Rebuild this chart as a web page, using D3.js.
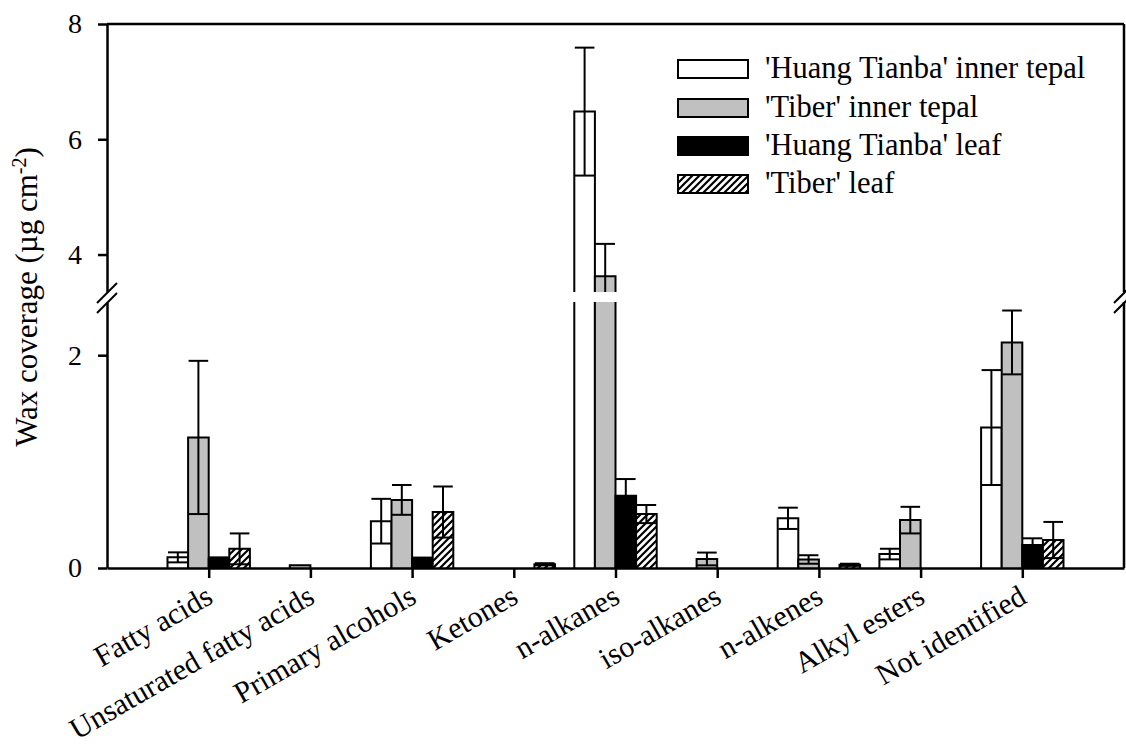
<!DOCTYPE html>
<html>
<head>
<meta charset="utf-8">
<script src="https://cdn.jsdelivr.net/npm/d3@7"></script>
<style>
  html, body { margin: 0; padding: 0; background: #fff; }
  svg { display: block; }
</style>
</head>
<body>
<svg id="chart" width="1126" height="745"></svg>
<script>
// Wax classes on the x axis
const categories = ["Fatty acids", "Unsaturated fatty acids", "Primary alcohols", "Ketones",
  "n-alkanes", "iso-alkanes", "n-alkenes", "Alkyl esters", "Not identified"];

// Series names (legend order)
const seriesNames = ["'Huang Tianba' inner tepal", "'Tiber' inner tepal", "'Huang Tianba' leaf", "'Tiber' leaf"];

// Mean wax coverage (µg cm-2) and standard deviations per series
const htTepal       = [0.10, 0,     0.44,  0,     6.48,  0,     0.467, 0.131, 1.32];
const htTepalErr    = [0.047, 0,    0.21,  0,     1.11,  0,     0.10,  0.05,  0.54];
const tiberTepal    = [1.227, 0.025, 0.64, 0,     3.625, 0.085, 0.08,  0.45,  2.12];
const tiberTepalErr = [0.72, 0,     0.14,  0,     0.56,  0.06,  0.04,  0.125, 0.30];
const htLeaf        = [0.09, 0,     0.088, 0,     0.679, 0,     0,     0,     0.216];
const htLeafErr     = [0.01, 0,     0.01,  0,     0.157, 0,     0,     0,     0.063];
const tiberLeaf     = [0.18, 0,     0.526, 0.035, 0.507, 0,     0.03,  0,     0.263];
const tiberLeafErr  = [0.145, 0,    0.24,  0.01,  0.085, 0,     0.01,  0,     0.17];

// Y tick labels for the two axis segments
const lowTicks = [0, 2];
const highTicks = [4, 6, 8];

const seriesValues = [htTepal, tiberTepal, htLeaf, tiberLeaf];
const seriesErrors = [htTepalErr, tiberTepalErr, htLeafErr, tiberLeafErr];
const fills = ["#ffffff", "#c0c0c0", "#000000", "url(#hatch)"];

const FONT = "'Times New Roman', 'Liberation Serif', Times, 'DejaVu Serif', serif";
const TEXT_SIZE = 31;

const svg = d3.select("#chart");

// diagonal hatch
const defs = svg.append("defs");
const pat = defs.append("pattern").attr("id", "hatch")
  .attr("patternUnits", "userSpaceOnUse").attr("width", 7).attr("height", 7);
pat.append("rect").attr("width", 7).attr("height", 7).attr("fill", "#fff");
pat.append("path").attr("d", "M-2,2 L2,-2 M0,7 L7,0 M5,9 L9,5")
  .attr("stroke", "#000").attr("stroke-width", 2.2);

// Scales: x uses slots 1..9, y is broken into a lower and an upper segment
const left = 107, right = 1124, base = 568, topY = 24;
const x = d3.scaleLinear().domain([0, 10]).range([left, right]);
const lowDom = [0, 2.5], highDom = [3.35, 8];
const yLow = d3.scaleLinear().domain(lowDom).range([base, 302]);
const yHigh = d3.scaleLinear().domain(highDom).range([292, topY]);
const segments = [{ s: yLow, d: lowDom }, { s: yHigh, d: highDom }];

const bw = 20.6;

// Bars
const gBars = svg.append("g");
seriesValues.forEach((vals, k) => {
  vals.forEach((v, i) => {
    if (!(v > 0)) return;
    const bx = x(i + 1) - 2 * bw + k * bw;
    // lower segment
    const vt = Math.min(v, lowDom[1]);
    const t = yLow(vt);
    gBars.append("rect").attr("x", bx).attr("y", t).attr("width", bw).attr("height", base - t)
      .attr("fill", fills[k]);
    let d = `M${bx},${base}V${t}`;
    d += v <= lowDom[1] ? `H${bx + bw}` : `M${bx + bw},${t}`;
    d += `V${base}`;
    gBars.append("path").attr("d", d).attr("fill", "none").attr("stroke", "#000").attr("stroke-width", 2);
    // upper segment
    if (v > highDom[0]) {
      const t2 = yHigh(v), b2 = yHigh(highDom[0]);
      gBars.append("rect").attr("x", bx).attr("y", t2).attr("width", bw).attr("height", b2 - t2)
        .attr("fill", fills[k]);
      gBars.append("path").attr("d", `M${bx},${b2}V${t2}H${bx + bw}V${b2}`)
        .attr("fill", "none").attr("stroke", "#000").attr("stroke-width", 2);
    }
  });
});

// Error bars (mean ± SD), clipped to each axis segment
const gErr = svg.append("g").attr("stroke", "#000").attr("stroke-width", 2).attr("fill", "none");
seriesValues.forEach((vals, k) => {
  vals.forEach((v, i) => {
    const e = seriesErrors[k][i];
    if (!(v > 0) || !(e > 0)) return;
    const cx = x(i + 1) - 2 * bw + k * bw + bw / 2;
    const lo = v - e, hi = v + e;
    segments.forEach(({ s, d }) => {
      const a = Math.max(lo, d[0]), b = Math.min(hi, d[1]);
      if (a < b) gErr.append("line").attr("x1", cx).attr("x2", cx).attr("y1", s(a)).attr("y2", s(b));
      [hi, lo].forEach(c => {
        if (c > 0 && c >= d[0] && c <= d[1]) {
          gErr.append("line").attr("x1", cx - bw / 2 + 0.5).attr("x2", cx + bw / 2 - 0.5)
            .attr("y1", s(c)).attr("y2", s(c));
        }
      });
    });
  });
});

// Axes
const axisW = 2.5;
const fmt = d3.format("d");
const gyLow = svg.append("g").attr("transform", `translate(${left},0)`)
  .call(d3.axisLeft(yLow).tickValues(lowTicks).tickFormat(fmt).tickSize(9).tickSizeOuter(0).tickPadding(16));
const gyHigh = svg.append("g").attr("transform", `translate(${left},0)`)
  .call(d3.axisLeft(yHigh).tickValues(highTicks).tickFormat(fmt).tickSize(9).tickSizeOuter(0).tickPadding(16));
const gx = svg.append("g").attr("transform", `translate(0,${base})`)
  .call(d3.axisBottom(x).tickValues(d3.range(1, 10)).tickSize(10).tickSizeOuter(0).tickFormat(""));
[gyLow, gyHigh, gx].forEach(g => {
  g.selectAll("path, line").attr("stroke", "#000").attr("stroke-width", axisW);
});
[gyLow, gyHigh].forEach(g => {
  g.attr("font-family", FONT).attr("font-size", 28);
  g.selectAll("text").style("font-family", FONT).attr("fill", "#000");
});

// frame: top edge and broken right edge
const gFrame = svg.append("g").attr("stroke", "#000").attr("stroke-width", axisW).attr("fill", "none");
gFrame.append("line").attr("x1", left).attr("x2", right).attr("y1", topY).attr("y2", topY);
gFrame.append("line").attr("x1", right).attr("x2", right).attr("y1", topY).attr("y2", yHigh(highDom[0]));
gFrame.append("line").attr("x1", right).attr("x2", right).attr("y1", yLow(lowDom[1])).attr("y2", base);

// break marks
const gBreak = svg.append("g").attr("stroke", "#000").attr("stroke-width", 2).attr("fill", "none");
[left, right].forEach(xx => {
  gBreak.append("line").attr("x1", xx - 10).attr("y1", 303).attr("x2", xx + 10).attr("y2", 283);
  gBreak.append("line").attr("x1", xx - 10).attr("y1", 313).attr("x2", xx + 10).attr("y2", 293);
});

// category labels, rotated
const gLab = svg.append("g");
categories.forEach((c, i) => {
  gLab.append("text")
    .attr("transform", `translate(${x(i + 1) + 6},${602}) rotate(-30)`)
    .attr("text-anchor", "end").attr("font-size", 30).style("font-family", FONT).text(c);
});

// y title
const yt = svg.append("text")
  .attr("transform", "translate(37,297) rotate(-90)")
  .attr("text-anchor", "middle").attr("font-size", TEXT_SIZE).style("font-family", FONT);
yt.append("tspan").text("Wax coverage (µg cm");
yt.append("tspan").attr("baseline-shift", "super").attr("font-size", 20).text("-2");
yt.append("tspan").text(")");

// legend
const gLeg = svg.append("g");
const legY = [60, 99, 137, 175];
seriesNames.forEach((n, k) => {
  gLeg.append("rect").attr("x", 678).attr("y", legY[k]).attr("width", 70).attr("height", 18)
    .attr("fill", fills[k]).attr("stroke", "#000").attr("stroke-width", 2);
  gLeg.append("text").attr("x", 765).attr("y", legY[k] + 18).attr("font-size", 30.5)
    .style("font-family", FONT).text(n);
});
</script>
</body>
</html>
